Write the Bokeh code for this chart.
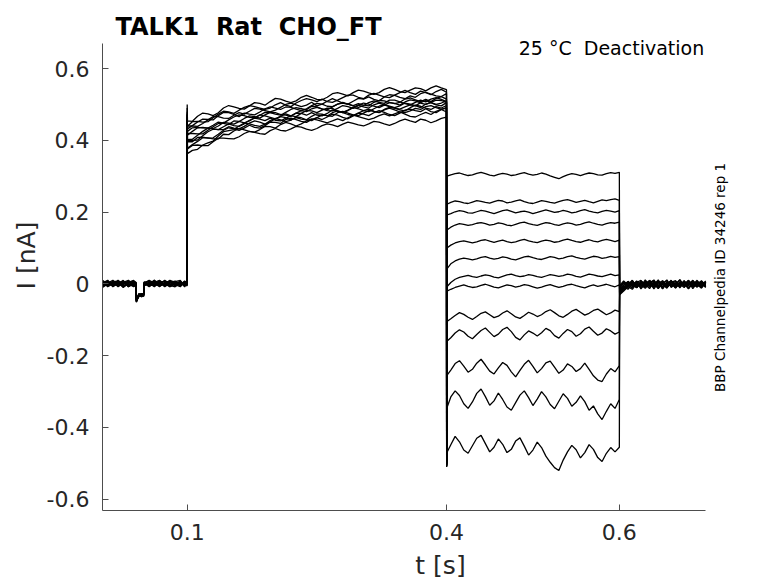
import numpy as np
from bokeh.plotting import figure
from bokeh.models import Range1d, FixedTicker, Label
from bokeh.embed import file_html
from bokeh.resources import INLINE

# ---- time grids (s) ----
t_pre = [0.002, 0.008, 0.014, 0.020, 0.026, 0.032, 0.038, 0.0408, 0.0412, 0.044, 0.047,
         0.0496, 0.0502, 0.056, 0.062, 0.068, 0.074, 0.080, 0.086, 0.092, 0.097, 0.0998]
t_step_on = 0.1
t_act = list(np.concatenate([[0.1003], np.round(np.arange(0.106, 0.4001, 0.006), 4)]))
t_step_off = 0.4002
t_tail = list(np.concatenate([[0.4005], np.round(np.arange(0.405, 0.6001, 0.005), 4)]))
t_post = list(np.concatenate([[0.6003], np.round(np.arange(0.605, 0.7001, 0.005), 4)]))

# ---- current values, in pA (1e-3 nA) ----
pre = [
    [4, -6, 8, -2, 6, -8, 2, 0, -46, -32, -28, -30, 4, -4, 10, -6, 2, 8, -4, 6, -2, 4],
    [-8, 4, -4, 10, -2, 6, -6, -2, -49, -35, -30, -27, -6, 6, -2, 4, -8, 2, 6, -4, 8, 0],
    [2, 10, -6, 4, -10, 2, 8, 4, -44, -29, -33, -31, 2, -8, 4, 10, -2, -6, 4, 2, -4, 6],
    [-4, 0, 6, -8, 4, 10, -4, -2, -50, -34, -27, -32, 0, 8, -6, 2, 6, -4, -8, 4, 2, -6],
    [6, -4, 2, 8, -6, -2, 4, 2, -43, -31, -35, -29, 4, -2, 8, -4, 0, 6, 2, -6, 4, 8],
    [-2, 8, -8, 2, 6, -4, 0, -4, -47, -28, -31, -34, -4, 4, -6, 8, -4, -2, 6, 10, -6, 2],
    [10, -2, 4, -6, 0, 8, -6, 0, -45, -36, -29, -28, 2, 10, 2, -8, 4, 8, -6, 0, 6, -4],
    [0, 6, -2, 4, -8, 2, 6, 4, -51, -30, -34, -31, 6, -6, 0, 4, 8, -8, 2, 6, -2, 10],
    [-6, 2, 10, -4, 8, -6, -2, -2, -42, -33, -27, -35, -2, 2, -8, 6, -6, 4, 8, -2, 0, -4],
    [8, -8, 0, 6, 2, 4, 10, 2, -48, -29, -32, -30, 0, -4, 6, -2, 10, 0, -4, 8, -8, 2],
    [-4, 4, -6, 0, 10, -8, 2, 0, -46, -34, -30, -26, 4, 8, -4, 0, -2, 10, 4, -6, 4, 6],
    [2, -4, 6, 8, -4, 0, -8, -4, -44, -31, -36, -33, -4, 0, 10, -6, 2, -8, 0, 4, -4, -2],
    [-10, 0, 4, -2, 2, 6, 4, 2, -50, -27, -29, -31, 2, -6, 2, 8, -6, 4, -2, -8, 6, 4],
]

act_spike = [500, 470, 460, 480, 450, 465, 475, 455, 490, 462, 448, 472, 458]

act = [
    [454, 453, 467, 476, 474, 469, 477, 490, 497, 493, 489, 487, 496, 505, 503, 498, 508, 517, 515, 509,
     505, 510, 520, 525, 520, 514, 513, 520, 530, 533, 529, 524, 533, 540, 537, 532, 528, 533, 542, 547,
     542, 536, 533, 540, 546, 544, 538, 546, 552, 546, 541],
    [439, 452, 453, 451, 452, 463, 473, 481, 479, 475, 484, 492, 497, 494, 490, 486, 490, 499, 505, 498,
     494, 504, 511, 516, 513, 508, 515, 508, 506, 512, 519, 526, 526, 520, 516, 526, 531, 526, 521, 519,
     526, 533, 539, 533, 528, 537, 533, 527, 536, 542, 534],
    [440, 440, 439, 447, 457, 466, 466, 462, 461, 470, 477, 473, 481, 489, 487, 483, 479, 484, 492, 500,
     504, 499, 494, 498, 506, 496, 501, 509, 516, 510, 504, 501, 509, 517, 515, 521, 514, 510, 521, 527,
     525, 520, 516, 524, 520, 530, 534, 529, 524, 522, 530],
    [432, 441, 451, 459, 458, 457, 469, 478, 477, 472, 466, 476, 473, 471, 479, 488, 493, 490, 486, 493,
     492, 487, 483, 488, 497, 503, 501, 495, 494, 501, 504, 501, 496, 492, 497, 505, 510, 506, 503, 512,
     512, 507, 502, 499, 506, 512, 507, 515, 519, 514, 508],
    [425, 435, 436, 435, 434, 442, 451, 448, 457, 465, 471, 469, 464, 463, 470, 478, 477, 473, 470, 478,
     486, 491, 488, 485, 495, 493, 487, 485, 493, 501, 506, 501, 497, 502, 498, 496, 506, 511, 510, 506,
     502, 506, 515, 518, 513, 508, 514, 508, 517, 522, 515],
    [414, 425, 435, 436, 434, 433, 440, 450, 448, 445, 452, 461, 468, 466, 462, 471, 478, 477, 472, 470,
     467, 476, 483, 480, 488, 492, 488, 483, 482, 489, 497, 494, 489, 498, 504, 501, 495, 491, 498, 505,
     503, 498, 507, 513, 510, 504, 500, 506, 512, 511, 506],
    [419, 419, 418, 418, 428, 438, 447, 447, 444, 454, 453, 449, 454, 463, 471, 468, 464, 460, 467, 474,
     468, 466, 475, 483, 482, 477, 484, 490, 489, 481, 478, 484, 492, 498, 493, 490, 499, 504, 499, 495,
     491, 496, 504, 501, 496, 505, 511, 505, 500, 504, 510],
    [402, 403, 414, 425, 434, 432, 430, 438, 446, 441, 439, 446, 456, 462, 459, 455, 462, 456, 454, 462,
     468, 476, 475, 470, 477, 470, 468, 475, 485, 482, 477, 483, 491, 488, 483, 480, 488, 495, 499, 494,
     490, 487, 493, 499, 497, 491, 501, 505, 499, 496, 505],
    [401, 400, 401, 413, 424, 431, 430, 430, 438, 434, 432, 439, 448, 454, 451, 445, 451, 460, 466, 463,
     457, 463, 459, 457, 467, 474, 473, 468, 477, 482, 477, 472, 469, 476, 483, 487, 481, 478, 486, 492,
     490, 485, 482, 491, 498, 495, 490, 486, 494, 490, 497],
    [396, 396, 408, 409, 406, 407, 417, 428, 435, 432, 428, 434, 442, 436, 434, 441, 451, 450, 447, 458,
     462, 458, 453, 450, 458, 463, 458, 465, 473, 470, 464, 460, 468, 476, 473, 469, 477, 483, 478, 472,
     469, 476, 484, 487, 483, 480, 488, 480, 477, 486, 490],
    [378, 388, 397, 407, 407, 404, 404, 417, 416, 426, 433, 429, 425, 423, 430, 439, 438, 434, 444, 450,
     446, 440, 446, 454, 460, 457, 453, 449, 454, 460, 455, 463, 470, 466, 462, 458, 462, 469, 474, 468,
     474, 479, 473, 467, 465, 472, 478, 472, 481, 486, 479],
    [376, 386, 387, 385, 385, 396, 406, 406, 405, 404, 410, 419, 425, 422, 419, 417, 427, 433, 428, 426,
     432, 439, 437, 431, 428, 433, 441, 446, 443, 438, 445, 451, 447, 443, 440, 446, 453, 451, 446, 442,
     447, 454, 459, 454, 450, 459, 456, 449, 454, 461, 465],
    [363, 372, 375, 387, 393, 398, 412, 424, 427, 430, 440, 448, 446, 442, 439, 445, 455, 461, 457, 452,
     456, 465, 463, 457, 455, 463, 471, 469, 467, 477, 481, 476, 471, 469, 476, 483, 481, 477, 485, 490,
     485, 479, 477, 482, 489, 486, 494, 497, 491, 486, 491],
]

tail_dip = [-498, -505, -502, -510, -500, -507, -503, -508, -501, -506, -499, -504, -509]

tail = [
    [300, 304, 307, 309, 305, 302, 304, 308, 311, 307, 303, 301, 305, 308, 306, 302, 304, 307, 310, 306, 303,
     305, 309, 306, 301, 297, 293, 299, 304, 307, 305, 302, 306, 309, 307, 304, 303, 307, 310, 308, 311],
    [222, 227, 231, 229, 226, 224, 228, 232, 230, 227, 225, 229, 233, 231, 226, 228, 231, 234, 229, 226, 224,
     228, 232, 230, 227, 225, 229, 233, 235, 231, 227, 230, 233, 229, 226, 230, 234, 232, 235, 237, 233],
    [192, 196, 201, 204, 202, 198, 197, 201, 205, 203, 199, 196, 200, 204, 206, 202, 198, 201, 203, 200, 196,
     199, 203, 206, 203, 199, 201, 205, 202, 198, 200, 204, 207, 203, 200, 198, 202, 205, 203, 200, 204],
    [150, 158, 164, 168, 166, 163, 165, 169, 171, 168, 164, 166, 170, 168, 164, 162, 166, 170, 172, 168, 165,
     163, 167, 171, 169, 165, 163, 167, 170, 168, 164, 166, 170, 173, 169, 166, 164, 168, 171, 169, 172],
    [100, 108, 114, 118, 120, 117, 114, 117, 121, 123, 119, 116, 119, 122, 118, 115, 117, 121, 124, 120, 117,
     115, 119, 122, 120, 116, 118, 122, 125, 121, 118, 116, 120, 123, 119, 117, 121, 124, 121, 118, 122],
    [42, 56, 64, 69, 72, 70, 67, 70, 74, 76, 72, 69, 71, 75, 73, 69, 67, 71, 75, 77, 73,
     70, 68, 72, 76, 74, 70, 72, 76, 78, 74, 71, 69, 73, 77, 75, 71, 73, 77, 74, 76],
    [-8, 4, 13, 18, 21, 24, 20, 18, 22, 25, 23, 19, 17, 21, 25, 27, 23, 20, 22, 26, 24,
     20, 18, 22, 26, 24, 21, 23, 27, 25, 21, 19, 23, 27, 25, 22, 20, 24, 27, 23, 25],
    [-20, -15, -10, -6, -3, -7, -10, -8, -4, -1, -5, -9, -11, -7, -3, -5, -9, -6, -2, -4, -8,
     -12, -9, -5, -2, -6, -10, -7, -3, -1, -5, -8, -11, -6, -3, -7, -4, -1, -5, -8, -3],
    [-105, -97, -88, -80, -85, -93, -99, -91, -82, -78, -86, -94, -90, -81, -75, -83, -92, -96, -88, -79, -84,
     -91, -86, -77, -72, -80, -89, -93, -85, -76, -71, -79, -87, -82, -74, -70, -78, -86, -81, -73, -77],
    [-160, -150, -137, -128, -134, -146, -153, -141, -130, -123, -135, -147, -140, -127, -121, -133, -149, -156, -142, -131, -137,
     -145, -136, -124, -130, -144, -151, -138, -127, -133, -146, -139, -126, -120, -132, -143, -137, -125, -131, -140, -134],
    [-255, -240, -222, -214, -229, -246, -238, -221, -210, -226, -243, -251, -234, -219, -227, -245, -259, -241, -224, -213, -230,
     -248, -236, -220, -215, -232, -249, -240, -223, -230, -244, -236, -221, -238, -256, -268, -272, -251, -236, -245, -228],
    [-345, -315, -298, -311, -334, -347, -329, -305, -293, -314, -338, -326, -304, -322, -343, -352, -331, -310, -298, -317, -339,
     -321, -300, -315, -336, -348, -327, -306, -319, -341, -330, -312, -328, -352, -340, -362, -378, -355, -334, -347, -322],
    [-470, -448, -425, -440, -463, -472, -451, -430, -422, -445, -468, -455, -432, -447, -470, -461, -438, -429, -452, -477, -463,
     -441, -456, -480, -497, -512, -520, -491, -468, -450, -462, -485, -470, -448, -461, -484, -495, -472, -456, -468, -455],
]

post = [
    [-18, -9, 4, -6, 8, -3, -12, 2, 9, -5, 3, -10, 6, -2, 11, -7, 1, -4, 7, -8, 2],
    [-25, -14, -2, 7, -8, 3, -5, 10, -3, -11, 5, -1, 8, -9, 0, 6, -6, 9, -2, -12, 4],
    [-12, 2, -7, 5, -10, 8, 0, -6, 4, -13, 6, -3, 10, -8, 3, -5, 9, -1, -9, 5, -4],
    [-30, -20, -8, -15, 1, -6, 6, -9, 2, -4, 9, -7, -1, 7, -11, 4, -3, 8, -6, 1, -10],
    [-8, 5, -4, 9, -11, 2, -6, 7, -3, 11, -8, 0, 5, -12, 3, -2, 10, -7, 4, -9, 6],
    [-22, -6, -15, 0, -9, 4, -2, -13, 6, -5, 2, 9, -10, 1, -6, 8, -14, 3, -4, 7, -1],
    [-15, -3, 6, -8, 3, -11, 7, -2, -9, 5, -14, 2, 8, -5, 0, -10, 6, -3, 10, -6, -1],
    [-28, -17, -5, 3, -10, 5, -7, 1, 8, -12, 0, -4, 7, -9, 4, -1, -13, 6, -5, 9, -8],
    [-5, 8, -3, -12, 4, 10, -6, 2, -10, 7, -2, 11, -8, 3, -5, 9, -11, 0, 6, -4, 3],
    [-20, -10, 2, -5, 7, -14, 1, 9, -7, 4, -3, -10, 6, -1, 12, -6, 2, -9, 5, -3, 8],
    [-10, 3, -9, 6, -2, -7, 11, -4, 0, 8, -13, 5, -6, 2, -9, 7, -2, 10, -8, 1, -5],
    [-26, -12, -3, 10, -6, 1, -9, 5, -14, 3, 8, -5, 0, -11, 6, -3, 9, -7, 2, -10, 4],
    [-16, -4, 7, -2, -10, 6, -5, 3, 11, -8, 1, -12, 4, 9, -4, -1, 7, -13, 3, 6, -7],
]

# axis limits of the drawn axes, and their ticks
x_lim = (0.002, 0.7)
y_lim = (-0.6314, 0.6694)
x_ticks = [0.1, 0.4, 0.6]
x_tick_labels = ["0.1", "0.4", "0.6"]
y_ticks = [-0.6, -0.4, -0.2, 0.0, 0.2, 0.4, 0.6]
y_tick_labels = ["-0.6", "-0.4", "-0.2", "0", "0.2", "0.4", "0.6"]

title_text = "TALK1\u00a0 Rat\u00a0 CHO_FT"
cond_text = "25 °C\u00a0 Deactivation"
side_text = "BBP Channelpedia ID 34246 rep 1"


def seg(times, vals):
    n = min(len(times), len(vals))
    return list(times[:n]), [v / 1000.0 for v in vals[:n]]


xs, ys = [], []
for i in range(len(tail)):
    x, y = [], []
    for tt, vv in [(t_pre, pre[i]), ([t_step_on], [act_spike[i]]), (t_act, act[i]),
                   ([t_step_off], [tail_dip[i]]), (t_tail, tail[i]), (t_post, post[i])]:
        a, b = seg(tt, vv)
        x += a
        y += b
    xs.append(x)
    ys.append(y)

FONT = "DejaVu Sans"
TXT = "#262626"
W, H = 778, 582
BL, BB = 102, 70          # left / bottom borders (axes)
PXX, PXY = 864.3, 360.3   # pixels per unit
# the plotting frame reaches the top and right edges so that the
# annotation texts placed there are not clipped; the axes are bounded
x_end = x_lim[0] + (W - BL) / PXX
y_end = y_lim[0] + (H - BB) / PXY

p = figure(width=W, height=H, output_backend="svg", toolbar_location=None,
           x_range=Range1d(x_lim[0], x_end), y_range=Range1d(y_lim[0], y_end),
           min_border_left=BL, min_border_right=0, min_border_top=0, min_border_bottom=BB)
p.outline_line_color = None
p.xgrid.visible = False
p.ygrid.visible = False
p.background_fill_color = "white"
p.border_fill_color = "white"

p.multi_line(xs, ys, line_color="black", line_width=1.3)

for ax in (p.xaxis[0], p.yaxis[0]):
    ax.axis_line_color = "#4d4d4d"
    ax.axis_line_width = 1
    ax.major_tick_line_color = "#4d4d4d"
    ax.major_tick_in = 6
    ax.major_tick_out = 0
    ax.minor_tick_line_color = None
    ax.major_label_text_font = FONT
    ax.major_label_text_font_size = "22px"
    ax.major_label_text_color = TXT
    ax.axis_label_text_font = FONT
    ax.axis_label_text_font_size = "25px"
    ax.axis_label_text_font_style = "normal"
    ax.axis_label_text_color = TXT

p.xaxis.bounds = x_lim
p.yaxis.bounds = y_lim
p.xaxis.ticker = FixedTicker(ticks=x_ticks)
p.xaxis.major_label_overrides = {v: l for v, l in zip(x_ticks, x_tick_labels)}
p.yaxis.ticker = FixedTicker(ticks=y_ticks)
p.yaxis.major_label_overrides = {v: l for v, l in zip(y_ticks, y_tick_labels)}
p.xaxis.axis_label = "t [s]"
p.yaxis.axis_label = "I [nA]"
p.xaxis.major_label_standoff = 13
p.yaxis.major_label_standoff = 13
p.xaxis.axis_label_standoff = 8
p.yaxis.axis_label_standoff = 3


def sx(px):
    return x_lim[0] + (px - BL) / PXX


def sy(py):
    return y_end - py / PXY


p.add_layout(Label(x=sx(115), y=sy(26.7), text=title_text, text_font=FONT, text_font_size="24px",
                   text_font_style="bold", text_color="black", text_align="left",
                   text_baseline="alphabetic"))
p.add_layout(Label(x=sx(703.7), y=sy(47.3), text=cond_text, text_font=FONT, text_font_size="19px",
                   text_color="black", text_align="right", text_baseline="alphabetic"))
p.add_layout(Label(x=sx(719), y=sy(278), text=side_text, text_font=FONT, text_font_size="13.5px",
                   text_color="black", text_align="center", text_baseline="alphabetic",
                   angle=np.pi / 2))

open("out.html", "w").write(file_html(p, INLINE))
